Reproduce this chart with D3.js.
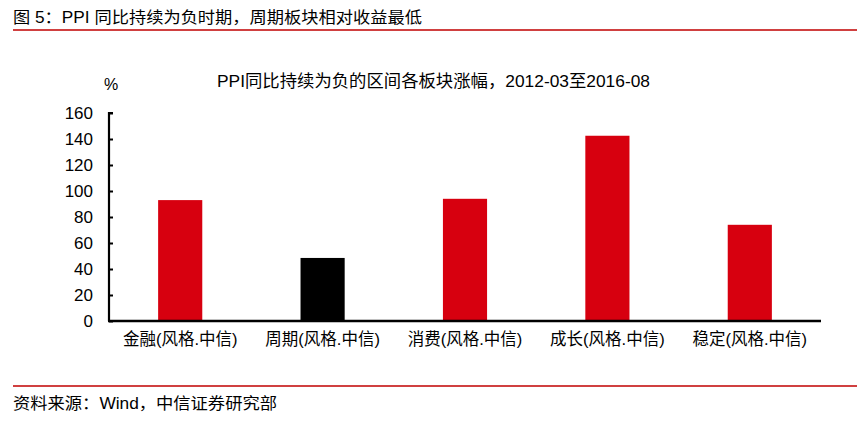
<!DOCTYPE html>
<html><head><meta charset="utf-8">
<script src="https://cdn.jsdelivr.net/npm/d3@7/dist/d3.min.js"></script>
<style>
html,body{margin:0;padding:0;background:#fff;}
text{font-family:"Liberation Sans","Noto Sans CJK SC",sans-serif;fill:#000;}
</style></head><body>
<svg id="c" width="864" height="421"></svg>
<script>
const categories = ["金融(风格.中信)", "周期(风格.中信)", "消费(风格.中信)", "成长(风格.中信)", "稳定(风格.中信)"];
const values = [93, 48.5, 94, 142.5, 74];
const barColors = ["#D7000F", "#000000", "#D7000F", "#D7000F", "#D7000F"];
const yTicks = [0, 20, 40, 60, 80, 100, 120, 140, 160];
const headerText = "图 5：PPI 同比持续为负时期，周期板块相对收益最低";
const chartTitle = "PPI同比持续为负的区间各板块涨幅，2012-03至2016-08";
const unitLabel = "%";
const sourceText = "资料来源：Wind，中信证券研究部";

const svg = d3.select("#c");
const x0 = 109, x1 = 821, yTop = 113, yBase = 321;

// header
svg.append("text").attr("x", 13).attr("y", 23).attr("font-size", 16)
  .attr("textLength", 409).attr("lengthAdjust", "spacingAndGlyphs").text(headerText);
svg.append("line").attr("x1", 13).attr("x2", 857).attr("y1", 30).attr("y2", 30)
  .attr("stroke", "#C00000").attr("stroke-width", 1.5);

// footer
svg.append("line").attr("x1", 13).attr("x2", 857).attr("y1", 386).attr("y2", 386)
  .attr("stroke", "#C00000").attr("stroke-width", 1.5);
svg.append("text").attr("x", 13).attr("y", 409).attr("font-size", 16)
  .attr("textLength", 264).attr("lengthAdjust", "spacingAndGlyphs").text(sourceText);

// title
svg.append("text").attr("x", 433.5).attr("y", 87).attr("font-size", 16.5)
  .attr("text-anchor", "middle")
  .attr("textLength", 433).attr("lengthAdjust", "spacingAndGlyphs").text(chartTitle);
svg.append("text").attr("x", 111).attr("y", 90).attr("font-size", 16)
  .attr("text-anchor", "middle").text(unitLabel);

const x = d3.scaleBand().domain(categories).range([x0, x1]).padding(0);
const y = d3.scaleLinear().domain([0, 160]).range([yBase, yTop]);
const bw = x.bandwidth() * 0.31;

svg.append("g").selectAll("rect").data(categories).join("rect")
  .attr("x", d => x(d) + x.bandwidth() / 2 - bw / 2)
  .attr("width", bw)
  .attr("y", (d, i) => y(values[i]))
  .attr("height", (d, i) => y(0) - y(values[i]))
  .attr("fill", (d, i) => barColors[i]);

// y axis
const yAxis = d3.axisRight(y).tickValues(yTicks).tickSize(4).tickFormat(d3.format("d"));
const gy = svg.append("g").attr("transform", `translate(${x0},0)`).call(yAxis);
gy.select(".domain").attr("stroke-width", 2.2).attr("d", `M4,${yTop}H0V${yBase}`);
gy.selectAll(".tick line").attr("stroke-width", 2);
gy.selectAll(".tick text").attr("x", -16).attr("text-anchor", "end")
  .attr("font-size", 17).attr("font-family", "Liberation Sans").attr("fill", "#000").attr("dy", "0.35em");

// x axis
const xAxis = d3.axisBottom(x).tickSize(0).tickPadding(12);
const gx = svg.append("g").attr("transform", `translate(0,${yBase})`).call(xAxis);
gx.select(".domain").attr("stroke-width", 2.5).attr("d", `M${x0 - 1},0H${x1}`);
gx.selectAll(".tick text").attr("font-size", 16.5).attr("fill", "#000")
  .attr("font-family", "Liberation Sans, Noto Sans CJK SC");
</script></body></html>
